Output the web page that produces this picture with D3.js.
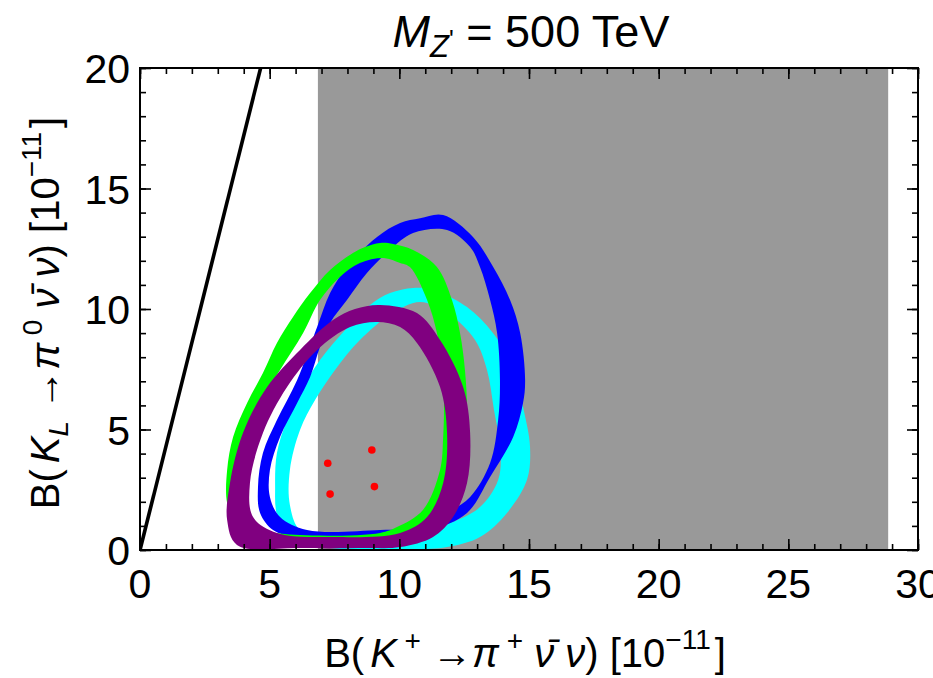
<!DOCTYPE html>
<html>
<head>
<meta charset="utf-8">
<script src="https://cdn.jsdelivr.net/npm/d3@7"></script>
<style>
body { margin: 0; background: #fff; }
text { font-family: "Liberation Sans", Arial, Helvetica, sans-serif; fill: #000; }
</style>
</head>
<body>
<svg id="vis" width="933" height="678"></svg>
<script>
var vis = d3.select("#vis");

// axis ticks
var xTicks = [0, 5, 10, 15, 20, 25, 30];
var yTicks = [0, 5, 10, 15, 20];

// gray excluded region in B(K+) and the Grossman-Nir bound
var grayBand = [6.86, 28.85];
var gnSlope = 4.3;

// red points
var redPoints = [[7.24, 3.60], [8.94, 4.15], [7.33, 2.32], [9.04, 2.63]];

// scatter bands: outer / inner outlines
var cyanOuter = [[10.53,10.87],[11.30,10.79],[12.61,10.08],[13.61,9.00],[14.39,7.59],[14.77,5.93],[15.04,4.27],[14.92,2.90],[14.15,1.54],[13.11,0.54],[11.84,0.12],[10.53,0.02],[7.33,0.08],[5.78,0.41],[5.28,1.45],[5.21,2.61],[5.28,4.02],[5.67,5.39],[6.29,6.76],[6.94,7.88],[7.91,9.13],[8.87,10.17],[9.64,10.66]];
var cyanInner = [[10.80,10.29],[11.96,9.75],[12.92,8.71],[13.38,7.47],[13.65,5.81],[13.90,4.15],[13.81,2.90],[13.11,1.78],[11.96,1.12],[10.41,0.62],[7.33,0.54],[6.17,0.83],[5.78,1.87],[5.78,3.32],[6.17,4.98],[6.75,6.22],[7.52,7.47],[8.48,8.71],[9.64,9.75]];

var blueOuter = [[11.69,13.90],[12.84,12.99],[13.62,11.74],[14.27,10.37],[14.66,9.00],[14.85,7.05],[14.77,6.10],[14.39,4.69],[13.50,3.03],[12.61,1.54],[11.19,0.83],[9.26,0.50],[6.94,0.37],[5.90,0.54],[5.13,0.83],[4.63,1.54],[4.55,2.61],[4.74,4.02],[5.28,5.39],[6.06,7.05],[6.83,9.25],[7.33,10.66],[7.98,11.74],[9.14,12.99],[10.03,13.57],[10.80,13.77]];
var blueInner = [[11.84,13.28],[12.73,12.57],[13.11,11.74],[13.50,10.37],[13.77,9.00],[13.88,7.05],[13.81,5.39],[13.50,3.61],[12.73,2.20],[11.84,1.54],[10.80,0.95],[9.26,0.83],[6.44,0.83],[5.40,1.37],[5.01,2.20],[5.01,3.32],[5.40,4.69],[6.06,6.10],[6.56,7.18],[6.94,8.42],[7.33,9.42],[7.98,10.37],[8.75,11.49],[9.64,12.45],[10.53,13.15]];

var greenOuter = [[9.26,12.74],[9.76,12.70],[10.53,12.45],[11.45,11.74],[12.03,10.37],[12.34,9.00],[12.53,7.47],[12.61,5.81],[12.53,4.15],[12.15,2.49],[11.57,1.24],[10.41,0.50],[8.87,0.21],[6.17,0.21],[4.51,0.41],[3.74,0.95],[3.36,1.95],[3.36,3.32],[3.59,4.69],[4.13,6.10],[4.74,7.34],[5.28,8.59],[5.90,9.67],[6.56,10.66],[7.33,11.62],[8.21,12.32],[8.68,12.57]];
var greenInner = [[9.45,12.11],[10.03,11.91],[10.41,11.74],[11.07,10.37],[11.45,9.00],[11.65,7.59],[11.72,6.22],[11.69,4.69],[11.57,3.32],[10.91,1.66],[9.91,0.95],[9.26,0.71],[6.17,0.62],[4.82,0.83],[4.36,1.24],[4.05,1.95],[3.93,3.32],[4.13,4.69],[4.63,6.10],[5.40,7.47],[6.29,9.00],[6.94,10.37],[7.71,11.33],[8.48,11.91]];

var purpleOuter = [[9.26,10.17],[10.68,9.83],[11.57,8.71],[12.46,6.76],[12.73,4.85],[12.61,2.78],[12.07,1.37],[11.30,0.54],[10.03,0.12],[8.75,0.08],[6.17,0.08],[3.74,0.21],[3.36,1.24],[3.47,2.78],[3.97,4.85],[4.90,6.76],[6.17,8.30],[7.44,9.54],[8.29,10.00]];
var purpleInner = [[9.14,9.46],[10.03,9.25],[10.68,8.59],[11.57,6.76],[11.84,4.85],[11.69,2.78],[11.07,1.37],[10.03,0.71],[7.44,0.54],[5.28,0.71],[4.36,1.37],[4.24,2.78],[4.74,4.85],[5.67,6.76],[6.83,8.30],[8.10,9.25]];

var bands = [
    { name: "cyan", color: "#00ffff", outer: cyanOuter, inner: cyanInner },
    { name: "blue", color: "#0000ff", outer: blueOuter, inner: blueInner },
    { name: "green", color: "#00ff00", outer: greenOuter, inner: greenInner },
    { name: "purple", color: "#800080", outer: purpleOuter, inner: purpleInner }
];

// plot frame (note: "top" is a window global, so use other names)
var pLeft = 140, pRight = 918, pTop = 68, pBottom = 550;
var x = d3.scaleLinear().domain([0, 30]).range([pLeft, pRight]);
var y = d3.scaleLinear().domain([0, 20]).range([pBottom, pTop]);

vis.append("clipPath").attr("id", "clip")
    .append("rect")
    .attr("x", pLeft).attr("y", pTop)
    .attr("width", pRight - pLeft).attr("height", pBottom - pTop);

var plot = vis.append("g").attr("clip-path", "url(#clip)");

plot.append("rect")
    .attr("x", x(grayBand[0]))
    .attr("y", y(20))
    .attr("width", x(grayBand[1]) - x(grayBand[0]))
    .attr("height", y(0) - y(20))
    .attr("fill", "#999999");

plot.append("line")
    .attr("x1", x(0)).attr("y1", y(0))
    .attr("x2", x(20 / gnSlope)).attr("y2", y(20))
    .attr("stroke", "black")
    .attr("stroke-width", 3.6);

var outline = d3.line()
    .x(d => x(d[0]))
    .y(d => y(d[1]))
    .curve(d3.curveCatmullRomClosed.alpha(0.5));

plot.selectAll(".band").data(bands).enter().append("path")
    .attr("class", "band")
    .attr("d", d => outline(d.outer) + outline(d.inner))
    .attr("fill", d => d.color)
    .attr("fill-rule", "evenodd");

plot.selectAll(".pt").data(redPoints).enter().append("circle")
    .attr("class", "pt")
    .attr("cx", d => x(d[0]))
    .attr("cy", d => y(d[1]))
    .attr("r", 3.8)
    .attr("fill", "#ff0000");

// ticks, pointing inward on all four sides
function drawTicks(axis, tr) {
    var g = vis.append("g").attr("transform", tr).call(axis);
    g.select(".domain").remove();
    g.selectAll("line").attr("stroke", "black").attr("stroke-width", 1.6);
    return g;
}

var xMinor = d3.range(0, 31);
var yMinor = d3.range(0, 21);

drawTicks(d3.axisBottom(x).tickValues(xMinor).tickSize(-6).tickFormat(""), `translate(0 ${pBottom})`);
drawTicks(d3.axisBottom(x).tickValues(xTicks).tickSize(-11).tickFormat(""), `translate(0 ${pBottom})`);
drawTicks(d3.axisTop(x).tickValues(xMinor).tickSize(-6).tickFormat(""), `translate(0 ${pTop})`);
drawTicks(d3.axisTop(x).tickValues(xTicks).tickSize(-11).tickFormat(""), `translate(0 ${pTop})`);
drawTicks(d3.axisLeft(y).tickValues(yMinor).tickSize(-6).tickFormat(""), `translate(${pLeft} 0)`);
drawTicks(d3.axisLeft(y).tickValues(yTicks).tickSize(-11).tickFormat(""), `translate(${pLeft} 0)`);
drawTicks(d3.axisRight(y).tickValues(yMinor).tickSize(-6).tickFormat(""), `translate(${pRight} 0)`);
drawTicks(d3.axisRight(y).tickValues(yTicks).tickSize(-11).tickFormat(""), `translate(${pRight} 0)`);

vis.append("rect")
    .attr("x", pLeft).attr("y", pTop)
    .attr("width", pRight - pLeft).attr("height", pBottom - pTop)
    .attr("fill", "none")
    .attr("stroke", "black")
    .attr("stroke-width", 2);

// tick labels
vis.selectAll(".xl").data(xTicks).enter().append("text")
    .attr("class", "xl")
    .attr("x", d => x(d))
    .attr("y", pBottom + 48)
    .attr("text-anchor", "middle")
    .attr("font-size", "41px")
    .text(d => d);

vis.selectAll(".yl").data(yTicks).enter().append("text")
    .attr("class", "yl")
    .attr("x", pLeft - 10)
    .attr("y", d => y(d) + 15)
    .attr("text-anchor", "end")
    .attr("font-size", "41px")
    .text(d => d);

// title
var title = vis.append("text")
    .attr("x", 531).attr("y", 47)
    .attr("text-anchor", "middle")
    .attr("font-size", "45px");
title.append("tspan").attr("font-style", "italic").text("M");
title.append("tspan").attr("font-style", "italic").attr("font-size", "31px").attr("dy", 10).text("Z");
title.append("tspan").attr("font-size", "25px").attr("dy", -9).text("'");
title.append("tspan").attr("dy", -1).text(" = 500 TeV");

// x axis title
var xt = vis.append("text")
    .attr("x", 525).attr("y", 667)
    .attr("text-anchor", "middle")
    .attr("font-size", "40px");
xt.append("tspan").text("B(");
xt.append("tspan").attr("dx", 6).attr("font-style", "italic").text("K");
xt.append("tspan").attr("font-size", "28px").attr("dy", -17).text(" +");
xt.append("tspan").attr("dy", 17).text(" \u2192");
xt.append("tspan").attr("font-style", "italic").text("\u03c0");
xt.append("tspan").attr("font-size", "28px").attr("dy", -17).text(" +");
xt.append("tspan").attr("dy", 17).attr("font-style", "italic").text("  \u03bd\u0304 \u03bd");
xt.append("tspan").text(")  [10");
xt.append("tspan").attr("font-size", "28px").attr("dy", -18).text("\u221211");
xt.append("tspan").attr("dy", 18).attr("dx", 4).text("]");

// y axis title
var yt = vis.append("text")
    .attr("transform", "translate(59 313) rotate(-90)")
    .attr("text-anchor", "middle")
    .attr("font-size", "40px");
yt.append("tspan").text("B(");
yt.append("tspan").attr("dx", 6).attr("font-style", "italic").text("K");
yt.append("tspan").attr("font-size", "28px").attr("font-style", "italic").attr("dy", 9).text("L");
yt.append("tspan").attr("dy", -9).text(" \u2192");
yt.append("tspan").attr("font-style", "italic").text("\u03c0");
yt.append("tspan").attr("font-size", "28px").attr("dy", -17).text(" 0");
yt.append("tspan").attr("dy", 17).attr("font-style", "italic").text("  \u03bd\u0304  \u03bd");
yt.append("tspan").text(")  [10");
yt.append("tspan").attr("font-size", "28px").attr("dy", -18).text("\u221211");
yt.append("tspan").attr("dy", 18).attr("dx", 4).text("]");
</script>
</body>
</html>
